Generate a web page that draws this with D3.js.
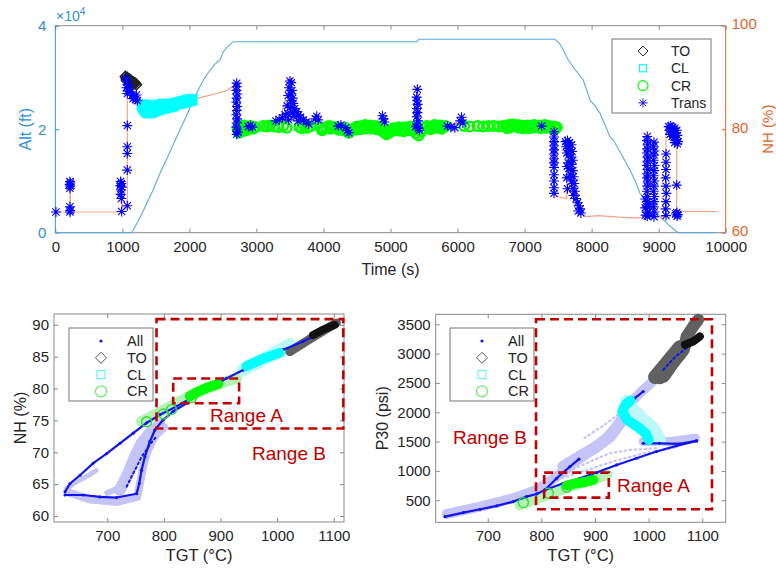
<!DOCTYPE html>
<html>
<head>
<meta charset="utf-8">
<script src="https://cdn.jsdelivr.net/npm/d3@7"></script>
<style>
  body { margin: 0; background: #fff; }
  svg text { font-family: "Liberation Sans", Arial, sans-serif; }
</style>
</head>
<body>
<svg id="chart" width="776" height="568"></svg>
<script>
var FONT = '"Liberation Sans", Arial, sans-serif';

// ---------- top panel: flight trace ----------
var timeTicks = [0, 1000, 2000, 3000, 4000, 5000, 6000, 7000, 8000, 9000, 10000];
var altTicks = [0, 20000, 40000];
var nhTicks = [60, 80, 100];

var altLine = [[0,0],[1140,0],[1200,1400],[1280,3300],[1363,5681],[1450,8000],[1562,11478],[1700,15300],[1811,18551],
  [1950,22400],[2058,25642],[2200,29300],[2308,31440],[2400,32800],[2457,33372],[2506,34976],[2560,35800],[2655,36908],
  [5391,36908],[5420,37370],[7454,37370],[7520,36600],[7580,35200],[7652,33372],[7760,31400],[7876,29507],[7976,25642],
  [8050,24500],[8125,23070],[8274,18551],[8323,17913],[8450,15000],[8572,12116],[8650,10000],[8721,7613],[8850,5300],
  [9020,3092],[9150,1500],[9269,193],[9300,0],[9866,0]];

var nhLine = [[0,64.0],[219,64.0],[219,69.6],[225,69.6],[225,64.0],[990,64.0],[990,68.5],[1000,65.0],[1074,65.0],
  [1074,89.0],[1090,89.6],[1130,88.4],[1200,86.3],[1260,85.0],[1289,84.7],[1413,83.7],[1662,84.3],[1909,85.3],
  [2035,85.6],[2100,85.9],[2250,86.4],[2400,86.9],[2550,87.4],[2650,88.3],[2706,88.9],[2706,79.5],[2760,80.0],
  [3000,80.6],[3150,81.2],[3250,80.9],[3350,81.8],[3500,89.2],[3560,85.0],[3650,83.3],[3780,81.3],[3800,82.0],
  [3850,81.4],[3900,82.0],[4000,80.6],[4300,80.2],[4400,79.6],[4600,80.3],[4900,81.8],[5000,80.0],[5300,80.3],
  [5391,80.0],[5391,87.9],[5420,80.0],[5800,80.5],[6060,81.6],[6200,80.6],[7255,80.6],[7439,80.0],[7439,67.6],
  [7480,67.0],[7628,66.6],[7628,77.3],[7700,76.0],[7780,66.5],[7830,64.0],[7926,63.1],[8100,63.3],[8400,63.0],
  [8796,62.8],[8830,63.0],[8830,78.6],[8835,63.0],[8930,63.0],[8930,77.5],[8935,63.1],[9100,63.1],[9110,80.3],
  [9200,79.4],[9269,78.0],[9269,63.8],[9300,64.1],[9866,64.1]];

var toTop = [[1045,90.2],[1060,89.9],[1075,90.0],[1090,89.6],[1105,89.7],[1120,89.3],[1135,89.4],[1150,89.0],
  [1165,89.1],[1180,88.8],[1195,88.9],[1210,88.6],[1060,89.5],[1090,89.2],[1120,88.9],[1150,88.6]];

var clTop = [[1300,84.6],[1320,84.2],[1340,83.8],[1360,83.5],[1380,83.3],[1400,83.2],[1420,83.3],[1440,83.6],
  [1460,83.5],[1480,83.8],[1500,83.7],[1530,84.0],[1560,83.9],[1590,84.2],[1620,84.1],[1650,84.4],[1680,84.3],
  [1710,84.6],[1740,84.5],[1770,84.8],[1800,84.9],[1830,85.0],[1860,85.1],[1890,85.2],[1920,85.3],[1950,85.4],
  [1980,85.5],[2010,85.6],[2035,85.7],[1350,84.6],[1400,84.2],[1450,84.3],[1500,84.4],[1550,84.6],[1610,84.8]];

var crTop = [[2720,80.0],[2740,79.3],[2760,80.4],[2790,79.6],[2820,80.2],[2850,79.8],[2880,80.3],[2920,80.6],
  [2950,80.1],[2990,80.4],[3100,80.6],[3160,80.5],[3200,80.7],[3260,80.5],[3330,80.4],[3400,80.6],[3450,80.3],
  [3640,80.4],[3680,80.2],[3720,80.6],[3760,80.3],[3800,80.5],[3960,80.4],[4000,80.0],[4040,80.3],[4080,80.6],
  [4120,80.5],[4160,80.2],[4200,80.4],[4260,80.1],[4300,79.8],[4340,79.6],[4380,79.3],[4420,79.8],[4460,80.2],
  [4500,80.5],[4540,80.3],[4580,80.6],[4620,80.8],[4660,80.5],[4700,80.7],[4740,80.4],[4780,80.6],[4820,80.3],
  [4860,79.8],[4900,79.4],[4940,79.0],[4980,79.3],[5020,79.6],[5060,79.9],[5100,80.1],[5140,79.7],[5180,80.0],
  [5220,80.4],[5260,80.2],[5300,80.5],[5340,79.8],[5380,79.2],[5420,78.8],[5460,79.5],[5500,80.2],[5540,80.6],
  [5580,80.2],[5620,80.5],[5660,80.8],[5700,80.4],[5740,80.7],[5780,80.3],[5820,80.6],[6100,80.6],[6180,80.5],
  [6300,80.6],[6380,80.5],[6460,80.6],[6540,80.6],[6620,80.5],[6680,80.6],[6720,80.5],[6760,80.8],[6800,80.4],
  [6840,80.7],[6880,80.5],[6920,80.3],[6960,80.6],[7000,80.4],[7040,80.7],[7080,80.5],[7120,80.3],[7160,80.6],
  [7200,80.4],[7240,80.2],[7280,80.5],[7320,80.3],[7360,80.6],[7400,80.2],[7440,80.5],[7480,80.4],
  [2735,80.6],[2805,80.7],[2865,80.5],[3980,79.8],[4100,80.1],[4230,79.9],[4320,80.3],[4480,79.9],[4560,80.0],
  [4640,80.2],[4720,80.1],[4800,80.0],[4880,80.3],[4960,79.8],[5040,80.2],[5120,80.4],[5200,79.6],[5280,79.8],
  [5600,80.0],[5680,80.3],[5760,80.1],[6740,80.2],[6820,80.9],[6900,80.8],[6980,80.2],[7060,80.2],[7140,80.8],
  [7220,80.7],[7300,80.8],[7380,80.5],[7460,80.1]];

var transTop = [[10,64.0],
  [219,69.9],[225,69.6],[215,69.3],[222,69.0],[219,68.6],[219,65.0],[222,64.3],[219,64.0],
  [975,69.9],[985,69.5],[970,69.1],[990,68.8],[980,68.3],[975,67.4],[985,66.6],[990,64.1],
  [1074,65.2],[1074,72.1],[1074,75.3],[1074,76.6],[1074,80.7],[1074,86.9],
  [1050,89.8],[1065,89.2],[1080,88.6],[1060,88.0],[1085,87.4],[1100,88.1],
  [1120,87.2],[1150,86.6],[1180,86.2],[1200,85.8],[1225,85.5],[1160,85.9],[1210,86.6],
  [2706,88.9],[2706,88.2],[2700,87.5],[2712,86.8],[2706,86.0],[2700,85.2],[2712,84.4],[2706,83.6],[2700,82.8],
  [2712,82.0],[2706,81.2],[2700,80.4],[2712,79.6],[2706,79.0],[2725,79.4],
  [2880,80.5],[2910,80.7],[2940,80.4],
  [3290,81.6],[3340,81.9],[3390,82.2],[3430,82.8],[3460,84.5],[3475,86.5],[3485,88.0],[3500,89.3],[3520,89.0],
  [3530,87.5],[3540,86.0],[3550,85.0],[3570,84.0],[3600,83.4],[3630,82.8],[3660,82.3],[3700,81.8],[3740,81.4],
  [3780,81.0],[3470,83.0],[3500,84.2],[3510,85.5],[3520,86.8],[3545,83.2],[3480,81.8],[3560,82.5],[3620,81.6],
  [3880,82.0],[3900,82.5],[3920,81.8],
  [4220,80.6],[4260,80.8],[4330,80.3],[4355,79.7],[4380,79.3],
  [4880,82.6],[4895,82.0],[4910,81.4],
  [5400,87.7],[5390,86.2],[5395,85.5],[5405,84.8],[5395,84.0],[5400,83.2],[5390,82.4],[5410,81.6],[5400,80.8],
  [5420,80.2],[5430,79.8],[5380,80.5],
  [5850,80.6],[5900,80.4],[5960,80.3],[6040,81.6],[6060,82.3],[6080,81.2],
  [7255,80.6],
  [7439,79.5],[7439,78.5],[7439,77.6],[7439,76.8],[7439,76.0],[7439,75.2],[7439,74.3],[7439,73.5],[7439,72.6],
  [7439,71.2],[7439,70.0],[7439,68.7],[7439,67.6],
  [7610,77.6],[7640,77.8],[7670,77.4],[7700,77.0],[7620,76.6],[7650,76.3],[7680,76.0],[7710,75.7],[7630,75.4],
  [7660,75.0],[7690,74.6],[7720,74.0],[7650,73.5],[7700,73.2],[7660,72.4],[7720,72.0],[7680,71.2],[7730,70.8],
  [7700,70.0],[7740,69.5],[7720,68.6],[7750,68.0],[7730,67.2],[7770,66.6],[7790,65.8],[7810,65.2],[7830,64.6],
  [7800,64.2],[7840,63.8],[7635,72.8],[7630,70.6],[7640,68.5],
  [8830,78.6],[8825,77.8],[8835,77.0],[8830,76.2],[8825,75.4],[8835,74.6],[8830,73.8],[8825,73.0],[8835,72.2],
  [8830,71.4],[8825,70.6],[8835,69.8],[8830,69.0],[8825,68.0],[8835,67.0],[8830,66.0],[8825,65.0],[8835,64.0],
  [8830,63.2],[8800,66.5],[8800,64.8],[8805,63.4],[8860,65.5],[8865,63.5],
  [8930,77.5],[8925,76.6],[8935,75.8],[8930,75.0],[8925,74.0],[8935,73.0],[8930,72.0],[8925,71.0],[8935,70.0],
  [8930,69.0],[8925,68.0],[8935,67.0],[8930,66.0],[8925,65.0],[8935,64.0],[8930,63.1],
  [9110,75.2],[9110,73.6],[9110,72.2],[9105,70.6],[9110,69.0],[9115,67.6],[9110,66.0],[9105,64.6],[9110,63.3],
  [9150,80.5],[9180,80.6],[9210,80.4],[9240,80.2],[9270,79.8],[9160,79.8],[9190,79.6],[9220,79.4],[9250,79.2],
  [9280,78.8],[9170,79.0],[9200,78.6],[9230,78.4],[9260,78.0],[9290,77.6],[9240,77.4],[9280,77.2],
  [9269,69.2],[9255,63.6],[9270,63.9],[9285,63.5],[9275,63.2]];

// ---------- bottom panels ----------
var tgtTicks = [700, 800, 900, 1000, 1100];
var nhScTicks = [60, 65, 70, 75, 80, 85, 90];
var p30Ticks = [500, 1000, 1500, 2000, 2500, 3000, 3500];
var legendNames = ["All", "TO", "CL", "CR"];

// TGT vs NH
var nhAllUpper = [[625.5,63.8],[634.3,65.1],[651.9,66.4],[675.4,68.3],[698.9,69.8],[722.4,71.4],[745.9,73.0],
  [769.4,74.6],[793,75.9],[822.3,77.2],[851.7,78.7],[881.1,80.1],[910.5,81.6],[939.9,82.9],[975.2,84.5],
  [1010.5,86.1],[1045.8,87.4],[1075.2,88.7],[1098.7,90.0]];
var nhAllLower = [[625.5,63.3],[657.8,63.3],[687.2,63.0],[716.6,62.9],[751.9,63.5],[756.5,65.1],[760.6,67.2],
  [766.5,69.3],[775.3,71.7],[784.1,73.5],[798.8,75.1],[816.4,76.4],[839.9,77.7]];
var nhAllInner = [[734.2,64.6],[743,66.2],[751.9,67.7],[760,69.2],[769.4,70.4],[778,71.5],[787,72.5]];
var nhCloud = [
  [[631.3,63.7],[669.5,62.6],[716.6,62.2],[753,63.0],[758.8,65.6],[764.7,68.3],[772.4,70.4],[784.1,72.5],[801.7,74.0]],
  [[722.4,64.1],[737.1,66.7],[748.9,69.3],[760.6,71.4],[775.3,73.0],[793,74.3]],
  [[628.4,64.3],[646,65.4],[663.6,66.2],[681.3,67.2]],
  [[700,63.6],[730,64.8],[745,67.5],[757,70.0],[768,72.5]]];
var nhCrLight = [[760.6,74.8],[790,76.2],[820,77.6],[850,79.0],[880,80.2],[910,81.1],[928.2,81.6]];
var nhCrBright = [[845.8,78.8],[860,79.5],[875,80.1],[895.8,80.7]];
var nhCrOpen = [[769.4,74.8],[798.8,76.0],[813.5,76.7],[849,78.6]];
var nhClLight = [[939.9,82.9],[980,84.8],[1022.3,86.9]];
var nhClBright = [[945.8,83.5],[975,84.7],[1004.6,85.6]];
var nhToGray = [[1022.3,85.8],[1060,87.9],[1104.5,90.3]];
var nhToBlack = [[1063.4,88.4],[1080,89.2],[1101.6,90.0]];
var nhRangeA = [[816.4,77.7],[932.8,81.57]];
var nhRangeB = [[787,73.74],[1116.7,90.9]];

// TGT vs P30
var p30AllLower = [[620.5,220.7],[654.7,289],[685.7,346],[716.8,403],[747.8,477],[772.6,562],[791.2,607.5],
  [806.7,676],[840.8,790],[871.9,875],[902.9,972],[940.2,1102],[977.4,1216],[1014.7,1330],[1051.9,1427],[1089.2,1512]];
var p30AllReturn = [[1089.2,1512],[1058.1,1461],[1020,1470],[989.9,1472]];
var p30AllUpper = [[806.7,676],[828.5,875],[853.3,1074],[870,1200]];
var p30AllCl = [[965,2126],[974.3,2240],[989.8,2354]];
var p30AllTop = [[1027.2,2724],[1050,2950],[1083,3179],[1095.4,3264]];
var p30Cloud = [
  [[623.6,266],[685.7,391],[747.8,534],[791.2,676],[828.4,903],[859.5,1131],[890.5,1330],[915.4,1501],[940.2,1757],
   [958.8,2041],[971.2,2212],[989.8,2382],[1014.7,2581]],
  [[840.8,1074],[871.9,1245],[902.9,1415],[927.7,1586],[946.4,1814]],
  [[989.8,1501],[1039.5,1501],[1089.2,1560]]];
var p30CloudDots = [
  [[806.7,676],[859.5,1028],[890.5,1159],[927.7,1301],[965,1358],[1014.7,1387]],
  [[830,850],[880,1000],[930,1150],[990,1300],[1050,1400]],
  [[880,1560],[920,1800],[955,2050]]];
var p30CrLight = [[760.2,420],[809.9,590],[853.3,733],[890.5,846],[921.6,932]];
var p30CrBright = [[847.2,750],[865.8,790],[884.4,818],[896.9,846]];
var p30CrOpen = [[766.4,460],[813,619],[847.2,721]];
var p30ClLight = [[1020.9,1529],[1008.5,1728],[989.8,1870],[971.2,2041],[958.8,2183]];
var p30ClBright = [[1000.2,1529],[994,1643],[978.5,1757],[959.9,1870],[950.6,2013],[956.8,2126],[966.1,2200]];
var p30ToGray = [[1021,2581],[1033.4,2724],[1045.8,2866],[1058.2,2980],[1067.5,3122],[1070.6,3292],[1083,3463],[1092.3,3577]];
var p30ToGray2 = [[1025,2650],[1040,2850],[1052,2990],[1060,3080]];
var p30ToGray3 = [[1012,2600],[1030,2800],[1045,2960]];
var p30ToBlack = [[1067.5,3150],[1083,3207],[1095.4,3292]];
var p30RangeA = [[805.3,544],[925.7,971]];
var p30RangeB = [[790,346],[1118,3585]];

var C = {
  axis: "#8a8a8a", text: "#262626", alt: "#5aaae0", altAxis: "#2f8fd2", nh: "#f3a487", nhAxis: "#e0652a",
  trans: "#0000ff", cr: "#00ff00", cl: "#00ffff", to: "#222", red: "#c00000",
  all: "#1414ee", cloud: "#c4c4f7", crLight: "#b5f3b5", clLight: "#bdf7f7", toGray: "#606060"
};

var svg = d3.select("#chart");
var fmtInt = d3.format("d");

function asteriskPath(r) {
  var a = r * 0.72;
  return "M" + (-r) + ",0H" + r + "M0," + (-r) + "V" + r +
    "M" + (-a) + "," + (-a) + "L" + a + "," + a + "M" + (-a) + "," + a + "L" + a + "," + (-a);
}
function diamondPath(r) { return "M0," + (-r) + "L" + r + ",0L0," + r + "L" + (-r) + ",0Z"; }

function styleAxis(g, lineColor, textColor, size) {
  g.select(".domain").remove();
  g.attr("font-family", FONT).attr("font-size", size || 15);
  g.selectAll(".tick line").attr("stroke", lineColor);
  g.selectAll(".tick text").attr("fill", textColor);
}

// ===== top panel =====
var x = d3.scaleLinear().domain([0, 10000]).range([55.3, 725.7]);
var yAlt = d3.scaleLinear().domain([0, 40000]).range([232.7, 25.7]);
var yNH = d3.scaleLinear().domain([60, 100]).range([232.7, 25.7]);

var gTop = svg.append("g");

gTop.append("g").attr("transform", "translate(0," + yAlt(0) + ")")
    .call(d3.axisBottom(x).tickValues(timeTicks).tickFormat(fmtInt).tickSize(-4).tickSizeOuter(0).tickPadding(9))
    .call(styleAxis, C.axis, C.text);
gTop.append("g").attr("transform", "translate(0," + yAlt(40000) + ")")
    .call(d3.axisTop(x).tickValues(timeTicks).tickSize(-4).tickSizeOuter(0).tickFormat(""))
    .call(styleAxis, C.axis, C.text);
gTop.append("g").attr("transform", "translate(" + x(0) + ",0)")
    .call(d3.axisLeft(yAlt).tickValues(altTicks).tickFormat(function(d) { return d / 10000; })
      .tickSize(-4).tickSizeOuter(0).tickPadding(9))
    .call(styleAxis, C.altAxis, C.altAxis);
var gRight = gTop.append("g").attr("transform", "translate(" + x(10000) + ",0)")
    .call(d3.axisRight(yNH).tickValues(nhTicks).tickSize(-4).tickSizeOuter(0).tickPadding(6))
    .call(styleAxis, C.nhAxis, C.nhAxis);
gRight.selectAll(".tick text").attr("dy", "0.2em");

// frame
gTop.append("line").attr("x1", x(0)).attr("x2", x(10000)).attr("y1", yAlt(0)).attr("y2", yAlt(0)).attr("stroke", C.axis);
gTop.append("line").attr("x1", x(0)).attr("x2", x(10000)).attr("y1", yAlt(40000)).attr("y2", yAlt(40000)).attr("stroke", C.axis);
gTop.append("line").attr("x1", x(0)).attr("x2", x(0)).attr("y1", yAlt(0)).attr("y2", yAlt(40000)).attr("stroke", C.altAxis);
gTop.append("line").attr("x1", x(10000)).attr("x2", x(10000)).attr("y1", yAlt(0)).attr("y2", yAlt(40000)).attr("stroke", C.nhAxis);

gTop.append("path").datum(altLine).attr("fill", "none").attr("stroke", C.alt).attr("stroke-width", 1.1)
    .attr("d", d3.line().x(function(d) { return x(d[0]); }).y(function(d) { return yAlt(d[1]); }));
gTop.append("path").datum(nhLine).attr("fill", "none").attr("stroke", C.nh).attr("stroke-width", 1.2)
    .attr("d", d3.line().x(function(d) { return x(d[0]); }).y(function(d) { return yNH(d[1]); }));

gTop.append("g").selectAll("rect").data(clTop).join("rect")
    .attr("x", function(d) { return x(d[0]) - 4.5; }).attr("y", function(d) { return yNH(d[1]) - 4.5; })
    .attr("width", 9).attr("height", 9).attr("fill", "none").attr("stroke", C.cl).attr("stroke-width", 2.6);
gTop.append("g").selectAll("circle").data(crTop).join("circle")
    .attr("cx", function(d) { return x(d[0]); }).attr("cy", function(d) { return yNH(d[1]); })
    .attr("r", 4.8).attr("fill", "none").attr("stroke", C.cr).attr("stroke-width", 2.4);
gTop.append("g").selectAll("path").data(toTop).join("path")
    .attr("transform", function(d) { return "translate(" + x(d[0]) + "," + yNH(d[1]) + ")"; })
    .attr("d", diamondPath(5)).attr("fill", "none").attr("stroke", C.to).attr("stroke-width", 1.6);
gTop.append("g").selectAll("path").data(transTop).join("path")
    .attr("transform", function(d) { return "translate(" + x(d[0]) + "," + yNH(d[1]) + ")"; })
    .attr("d", asteriskPath(5)).attr("fill", "none").attr("stroke", C.trans).attr("stroke-width", 1.1);

// labels
gTop.append("text").attr("x", (x(0) + x(10000)) / 2).attr("y", 275).attr("text-anchor", "middle")
    .attr("font-size", 16).attr("fill", C.text).text("Time (s)");
gTop.append("text").attr("transform", "translate(31," + yAlt(20000) + ") rotate(-90)").attr("text-anchor", "middle")
    .attr("font-size", 16).attr("fill", C.altAxis).text("Alt (ft)");
gTop.append("text").attr("transform", "translate(773," + yNH(80) + ") rotate(-90)").attr("text-anchor", "middle")
    .attr("font-size", 15).attr("fill", C.nhAxis).text("NH (%)");
var expo = gTop.append("text").attr("x", 56).attr("y", 21).attr("font-size", 14).attr("fill", C.altAxis);
expo.append("tspan").text("\u00d710");
expo.append("tspan").attr("dy", -6).attr("font-size", 10).text("4");

// top legend
var lgT = gTop.append("g").attr("transform", "translate(612,39)");
lgT.append("rect").attr("width", 99).attr("height", 74).attr("fill", "#fff").attr("stroke", "#777");
var topLegend = ["TO", "CL", "CR", "Trans"];
topLegend.forEach(function(name, i) {
  var cy = 12 + i * 17.3;
  var mk = lgT.append("g").attr("transform", "translate(31," + cy + ")");
  if (name === "TO") mk.append("path").attr("d", diamondPath(5)).attr("fill", "none").attr("stroke", "#333").attr("stroke-width", 1);
  if (name === "CL") mk.append("rect").attr("x", -3.5).attr("y", -3.5).attr("width", 7).attr("height", 7).attr("fill", "none").attr("stroke", C.cl).attr("stroke-width", 1.2);
  if (name === "CR") mk.append("circle").attr("r", 5).attr("fill", "none").attr("stroke", C.cr).attr("stroke-width", 1.2);
  if (name === "Trans") mk.append("path").attr("d", asteriskPath(4.6)).attr("fill", "none").attr("stroke", C.trans).attr("stroke-width", 0.9);
  lgT.append("text").attr("x", 59).attr("y", cy + 5).attr("font-size", 14).attr("fill", C.text).text(name);
});

// ===== bottom panels =====
function scatterPanel(cfg) {
  var g = svg.append("g");
  var xs = d3.scaleLinear().domain(cfg.xDomain).range(cfg.xRange);
  var ys = d3.scaleLinear().domain(cfg.yDomain).range(cfg.yRange);
  var line = d3.line().x(function(d) { return xs(d[0]); }).y(function(d) { return ys(d[1]); });

  g.append("g").attr("transform", "translate(0," + cfg.yRange[0] + ")")
      .call(d3.axisBottom(xs).tickValues(tgtTicks).tickFormat(fmtInt).tickSize(-4).tickSizeOuter(0).tickPadding(8))
      .call(styleAxis, C.axis, C.text);
  g.append("g").attr("transform", "translate(0," + cfg.yRange[1] + ")")
      .call(d3.axisTop(xs).tickValues(tgtTicks).tickSize(-4).tickSizeOuter(0).tickFormat(""))
      .call(styleAxis, C.axis, C.text);
  g.append("g").attr("transform", "translate(" + cfg.xRange[0] + ",0)")
      .call(d3.axisLeft(ys).tickValues(cfg.yTicks).tickFormat(fmtInt).tickSize(-4).tickSizeOuter(0).tickPadding(5))
      .call(styleAxis, C.axis, C.text);
  g.append("g").attr("transform", "translate(" + cfg.xRange[1] + ",0)")
      .call(d3.axisRight(ys).tickValues(cfg.yTicks).tickSize(-4).tickSizeOuter(0).tickFormat(""))
      .call(styleAxis, C.axis, C.text);
  g.append("rect").attr("x", cfg.xRange[0]).attr("y", cfg.yRange[1])
      .attr("width", cfg.xRange[1] - cfg.xRange[0]).attr("height", cfg.yRange[0] - cfg.yRange[1])
      .attr("fill", "none").attr("stroke", C.axis);

  function band(pts, color, w, dash) {
    g.append("path").datum(pts).attr("d", line).attr("fill", "none").attr("stroke", color)
      .attr("stroke-width", w).attr("stroke-linecap", "round").attr("stroke-linejoin", "round")
      .attr("stroke-dasharray", dash || null);
  }
  function dots(pts, color, r) {
    g.append("g").selectAll("circle").data(pts).join("circle")
      .attr("cx", function(d) { return xs(d[0]); }).attr("cy", function(d) { return ys(d[1]); })
      .attr("r", r).attr("fill", color);
  }

  cfg.cloud.forEach(function(p, i) { band(p, C.cloud, cfg.cloudW[i], "3,1.5"); });
  (cfg.cloudDots || []).forEach(function(p) { band(p, C.cloud, 2.2, "1.5,3.5"); });
  band(cfg.crLight, C.crLight, 11);
  band(cfg.clLight, C.clLight, 13);
  cfg.toGray.forEach(function(p, i) { band(p, C.toGray, cfg.toGrayW[i]); });
  cfg.all.forEach(function(p) { band(p, C.all, 2.2); dots(p, C.all, 1.6); });
  (cfg.allDotted || []).forEach(function(p) { band(p, C.all, 2, "2,3"); });
  band(cfg.crBright, C.cr, 10);
  band(cfg.clBright, C.cl, 10);
  band(cfg.toBlack, "#111", 8);
  g.append("g").selectAll("circle").data(cfg.crOpen).join("circle")
      .attr("cx", function(d) { return xs(d[0]); }).attr("cy", function(d) { return ys(d[1]); })
      .attr("r", 5).attr("fill", "none").attr("stroke", "#33dd33").attr("stroke-width", 1.4);

  // ranges
  [cfg.rangeB, cfg.rangeA].forEach(function(rg) {
    g.append("rect").attr("x", xs(rg[0][0])).attr("y", ys(rg[1][1]))
      .attr("width", xs(rg[1][0]) - xs(rg[0][0])).attr("height", ys(rg[0][1]) - ys(rg[1][1]))
      .attr("fill", "none").attr("stroke", C.red).attr("stroke-width", 2.6).attr("stroke-dasharray", "9,5");
  });
  cfg.rangeText.forEach(function(t) {
    g.append("text").attr("x", t[1]).attr("y", t[2]).attr("font-family", '"Open Sans", "Noto Sans", sans-serif')
      .attr("font-size", 19).attr("fill", C.red).text(t[0]);
  });

  // legend
  var lg = g.append("g").attr("transform", "translate(" + cfg.legend[0] + "," + cfg.legend[1] + ")");
  lg.append("rect").attr("width", 84).attr("height", 73).attr("fill", "#fff").attr("stroke", "#777");
  legendNames.forEach(function(name, i) {
    var cy = 13 + i * 16.8;
    var mk = lg.append("g").attr("transform", "translate(32," + cy + ")");
    if (name === "All") mk.append("circle").attr("r", 1.6).attr("fill", C.all);
    if (name === "TO") mk.append("path").attr("d", diamondPath(5.5)).attr("fill", "none").attr("stroke", "#555").attr("stroke-width", 1);
    if (name === "CL") mk.append("rect").attr("x", -4).attr("y", -4).attr("width", 8).attr("height", 8).attr("fill", "none").attr("stroke", "#66f5f5").attr("stroke-width", 1.2);
    if (name === "CR") mk.append("circle").attr("r", 5.5).attr("fill", "none").attr("stroke", "#66ee66").attr("stroke-width", 1.2);
    lg.append("text").attr("x", 58).attr("y", cy + 5).attr("font-size", 14.5).attr("fill", C.text).text(name);
  });

  g.append("text").attr("x", (cfg.xRange[0] + cfg.xRange[1]) / 2).attr("y", 561).attr("text-anchor", "middle")
      .attr("font-size", 16.5).attr("fill", C.text).text("TGT (\u00b0C)");
  g.append("text").attr("transform", "translate(" + cfg.yLabelX + "," + ((cfg.yRange[0] + cfg.yRange[1]) / 2) + ") rotate(-90)")
      .attr("text-anchor", "middle").attr("font-size", 16).attr("fill", C.text).text(cfg.yLabel);
}

scatterPanel({
  xDomain: [606, 1118], xRange: [54, 344], yDomain: [59.06, 91.7], yRange: [522, 314], yTicks: nhScTicks,
  yLabel: "NH (%)", yLabelX: 26,
  cloud: nhCloud, cloudW: [8, 12, 5, 6],
  crLight: nhCrLight, crBright: nhCrBright, crOpen: nhCrOpen,
  clLight: nhClLight, clBright: nhClBright,
  toGray: [nhToGray], toGrayW: [9], toBlack: nhToBlack,
  all: [nhAllUpper, nhAllLower], allDotted: [nhAllInner],
  rangeA: nhRangeA, rangeB: nhRangeB,
  rangeText: [["Range A", 210, 421.5], ["Range B", 252, 460]],
  legend: [69, 328]
});

scatterPanel({
  xDomain: [603, 1143.6], xRange: [435.7, 725.7], yDomain: [124, 3670], yRange: [522.3, 314.3], yTicks: p30Ticks,
  yLabel: "P30 (psi)", yLabelX: 388,
  cloud: p30Cloud, cloudW: [10, 12, 9], cloudDots: p30CloudDots,
  crLight: p30CrLight, crBright: p30CrBright, crOpen: p30CrOpen,
  clLight: p30ClLight, clBright: p30ClBright,
  toGray: [p30ToGray, p30ToGray2, p30ToGray3], toGrayW: [12, 18, 14], toBlack: p30ToBlack,
  all: [p30AllLower, p30AllReturn, p30AllUpper, p30AllCl], allDotted: [p30AllTop],
  rangeA: p30RangeA, rangeB: p30RangeB,
  rangeText: [["Range A", 617, 491.5], ["Range B", 453, 444]],
  legend: [450, 328]
});
</script>
</body>
</html>
